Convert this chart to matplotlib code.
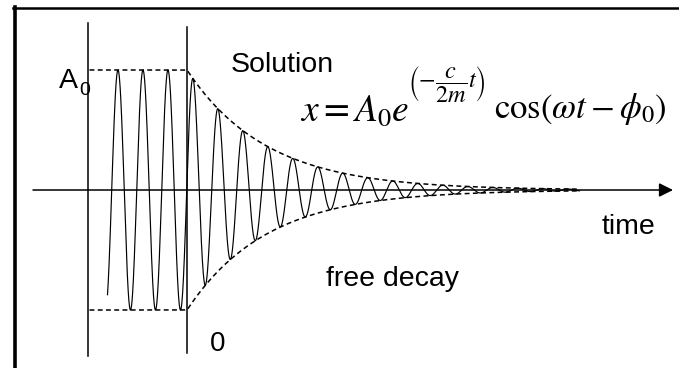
import numpy as np
import matplotlib
matplotlib.use("Agg")
import matplotlib.pyplot as plt
from matplotlib.lines import Line2D

# Oscillator parameters (time in units of one period, amplitude in units of A0)
A0 = 1.0
period = 1.0
decay_rate = 0.315          # c / 2m
phase0 = 1.5                # phi_0 in radians
t_driven_start = -3.18      # start of the steady oscillation before release
t_release = 0.0             # time origin: free decay begins
t_curve_end = 15.7          # where the decaying trace is stopped
t_envelope_start = -3.9     # start of the dashed amplitude guides
t_marker_left = -3.96       # left vertical marker
axis_start, axis_end = -6.16, 19.44

# Labels
label_solution = "Solution"
label_time = "time"
label_free = "free decay"
label_zero = "0"
label_amp = "A"
label_amp_sub = "0"
eq_lhs = r"$x = A_0 e$"
eq_exponent = r"$\left(-\dfrac{c}{2m}t\right)$"
eq_cos = r"$\cos(\omega t - \phi_0)$"

plt.rcParams["font.family"] = ["Liberation Sans", "DejaVu Sans"]
plt.rcParams["mathtext.fontset"] = "stix"

fig = plt.figure(figsize=(6.79, 3.68), dpi=100)
ax = fig.add_axes([0, 0, 1, 1])
ax.set_xlim(-7.48, 19.68)
ax.set_ylim(-1.483, 1.583)
ax.axis("off")

omega = 2 * np.pi / period

# Displacement trace: constant amplitude before release, exponential decay after
t = np.linspace(t_driven_start, t_curve_end, 6000)
amp = np.where(t < t_release, A0, A0 * np.exp(-decay_rate * (t - t_release)))
x = amp * np.cos(omega * t - phase0)
ax.plot(t, x, color="black", lw=0.85)

# Dashed amplitude envelope
te = np.linspace(t_envelope_start, t_curve_end, 2000)
env = np.where(te < t_release, A0, A0 * np.exp(-decay_rate * (te - t_release)))
dash = dict(color="black", lw=1.1, dashes=(3.2, 2.2))
ax.plot(te, env, **dash)
ax.plot(te, -env, **dash)

# Vertical markers
ax.plot([t_marker_left, t_marker_left], [-1.38, 1.39], color="black", lw=1.1)
ax.plot([t_release, t_release], [-1.36, 1.36], color="black", lw=1.1)

# Time axis with arrow
ax.annotate("", xy=(axis_end, 0), xytext=(axis_start, 0),
            arrowprops=dict(arrowstyle="-|>,head_length=0.6,head_width=0.3",
                            color="black", lw=1.1, mutation_scale=14,
                            shrinkA=0, shrinkB=0))

# Text labels
ax.text(1.76, 0.983, label_solution, fontsize=20.5, ha="left", va="baseline")
ax.text(16.6, -0.367, label_time, fontsize=20.5, ha="left", va="baseline")
ax.text(5.56, -0.8, label_free, fontsize=20.5, ha="left", va="baseline")
ax.text(0.92, -1.34, label_zero, fontsize=20, ha="left", va="baseline")
ax.text(-5.12, 0.85, label_amp, fontsize=20.5, ha="left", va="baseline")
ax.text(-4.32, 0.79, label_amp_sub, fontsize=14, ha="left", va="baseline")

# Solution formula, set in three pieces so the exponent can be large
ax.text(4.52, 0.575, eq_lhs, fontsize=27, ha="left", va="baseline")
ax.text(8.84, 0.88, eq_exponent, fontsize=17.5, ha="left", va="center")
ax.text(12.26, 0.6, eq_cos, fontsize=25, ha="left", va="baseline")

# Frame lines along top and left edges
ax.add_line(Line2D([13 / 679, 1.0], [1 - 8 / 368, 1 - 8 / 368],
                   transform=ax.transAxes, color="black", lw=1.8, clip_on=False))
ax.add_line(Line2D([14.5 / 679, 14.5 / 679], [0, 1 - 7 / 368],
                   transform=ax.transAxes, color="black", lw=2.6, clip_on=False))

fig.savefig("out.png", dpi=100)
